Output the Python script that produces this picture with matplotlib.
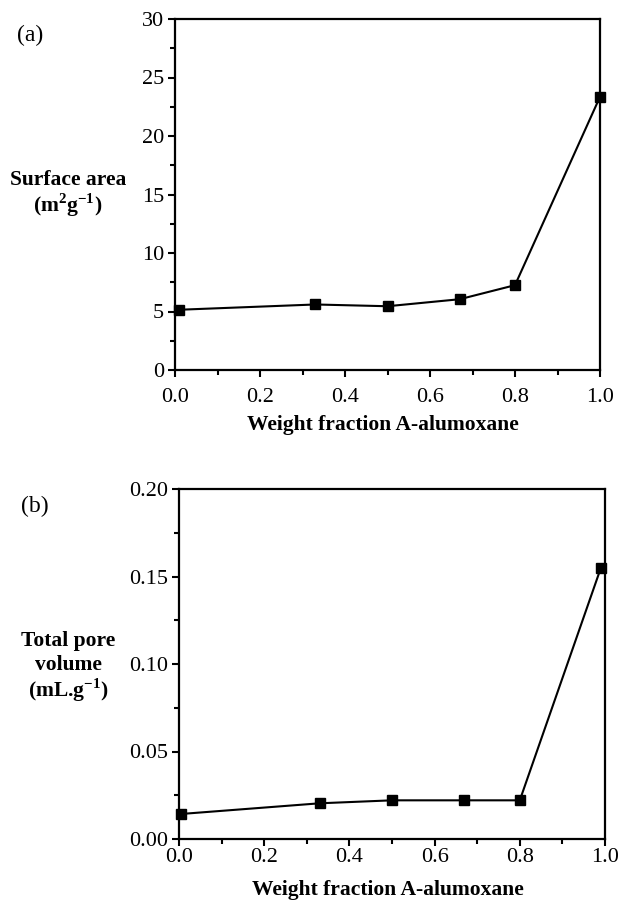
import matplotlib
matplotlib.use("Agg")
import matplotlib.pyplot as plt
from matplotlib.ticker import MultipleLocator, FormatStrFormatter

# Data
x_a = [0.01, 0.33, 0.50, 0.67, 0.80, 1.00]
surface_area = [5.15, 5.6, 5.45, 6.05, 7.25, 23.35]

x_b = [0.005, 0.33, 0.50, 0.67, 0.80, 0.99]
pore_volume = [0.0143, 0.0204, 0.0221, 0.0221, 0.0221, 0.1547]

xlabel = "Weight fraction A-alumoxane"

plt.rcParams['font.family'] = ['Liberation Serif', 'DejaVu Serif']
plt.rcParams['mathtext.fontset'] = 'custom'
plt.rcParams['mathtext.rm'] = 'Liberation Serif'
plt.rcParams['mathtext.bf'] = 'Liberation Serif:bold'

W, H = 619, 902
fig = plt.figure(figsize=(W / 100, H / 100), dpi=100)

def add_axes(l, t, r, b):
    return fig.add_axes([l / W, 1 - b / H, (r - l) / W, (b - t) / H])

ax1 = add_axes(175, 19, 600, 370)
ax2 = add_axes(179, 489, 605, 839)

def style(ax, ymax, ymajor, yminor, fmt, xpad):
    ax.set_xlim(0, 1.0)
    ax.set_ylim(0, ymax)
    ax.xaxis.set_major_locator(MultipleLocator(0.2))
    ax.xaxis.set_minor_locator(MultipleLocator(0.1))
    ax.yaxis.set_major_locator(MultipleLocator(ymajor))
    ax.yaxis.set_minor_locator(MultipleLocator(yminor))
    ax.xaxis.set_major_formatter(FormatStrFormatter('%.1f'))
    ax.yaxis.set_major_formatter(FormatStrFormatter(fmt))
    ax.tick_params(which='both', direction='out', top=False, right=False,
                   labelsize=16, width=1.5, color='black')
    ax.tick_params(which='major', length=5, pad=3)
    ax.tick_params(which='minor', length=3.5)
    ax.tick_params(axis='x', which='major', pad=xpad)
    for s in ax.spines.values():
        s.set_linewidth(1.6)

ax1.plot(x_a, surface_area, color='black', lw=1.5, marker='s', ms=6.5, clip_on=False, zorder=3)
style(ax1, 30, 5, 2.5, '%d', 8.0)
ax2.plot(x_b, pore_volume, color='black', lw=1.5, marker='s', ms=6.5, clip_on=False, zorder=3)
style(ax2, 0.20, 0.05, 0.025, '%.2f', 1.5)

# x-axis labels
fig.text(383 / W, 1 - 430 / H, xlabel, ha='center', va='baseline', fontsize=15.5, fontweight='bold')
fig.text(388 / W, 1 - 895 / H, xlabel, ha='center', va='baseline', fontsize=15.5, fontweight='bold')

# y-axis labels (multi-line, centred at left)
yl_kw = dict(ha='center', va='baseline', fontsize=15.5, fontweight='bold')
fig.text(68 / W, 1 - 185 / H, "Surface area", **yl_kw)
fig.text(68 / W, 1 - 212 / H, "(m$^{\\mathbf{2}}$g$^{\\mathbf{-1}}$)", **yl_kw)
fig.text(68 / W, 1 - 646 / H, "Total pore", **yl_kw)
fig.text(68 / W, 1 - 670 / H, "volume", **yl_kw)
fig.text(68 / W, 1 - 697 / H, "(mL.g$^{\\mathbf{-1}}$)", **yl_kw)

# panel letters
fig.text(17 / W, 1 - 41 / H, "(a)", ha='left', va='baseline', fontsize=17)
fig.text(21 / W, 1 - 512 / H, "(b)", ha='left', va='baseline', fontsize=17)

fig.savefig("out.png", dpi=100)
